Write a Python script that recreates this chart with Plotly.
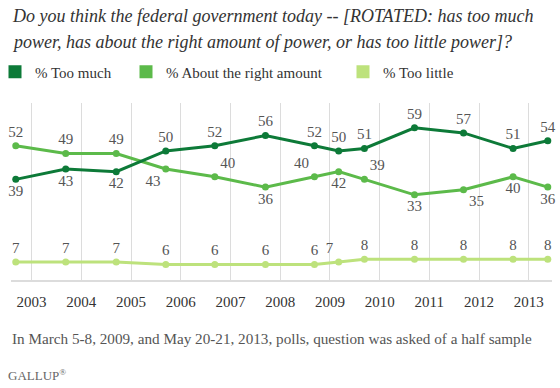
import plotly.graph_objects as go

# ---- data ----
poll_dates = ["2002-09-07", "2003-09-09", "2004-09-14", "2005-09-13", "2006-09-08",
              "2007-09-15", "2008-09-09", "2009-03-06", "2009-09-11", "2010-09-14",
              "2011-09-09", "2012-09-07", "2013-05-20"]
too_much = [39, 43, 42, 50, 52, 56, 52, 50, 51, 59, 57, 51, 54]
about_right = [52, 49, 49, 43, 40, 36, 40, 42, 39, 33, 35, 40, 36]
too_little = [7, 7, 7, 6, 6, 6, 6, 7, 8, 8, 8, 8, 8]
year_labels = ["2003", "2004", "2005", "2006", "2007", "2008", "2009", "2010", "2011", "2012", "2013"]
year_ticks = [f"{y}-01-01" for y in year_labels]
series_names = ["% Too much", "% About the right amount", "% Too little"]

# ---- styles ----
C_MUCH = "#0d7a38"
C_RIGHT = "#5cba4a"
C_LITTLE = "#bde27c"
SERIF = "Liberation Serif, Times New Roman, serif"

pos_much = ["bottom center"] * 3 + ["top center"] * 10
pos_right = ["top center"] * 3 + ["bottom left", "top right", "bottom center", "top left",
                                  "bottom center", "top right", "bottom center", "bottom right",
                                  "bottom center", "bottom center"]
pos_little = ["top center"] * 7 + ["top left"] + ["top center"] * 5

W, H = 560, 388
L, R, T, B = 11, 8, 103, 108
PW, PH = W - L - R, H - T - B


def px(x):
    return (x - L) / PW


def py(y):
    return (H - B - y) / PH


fig = go.Figure()
for name, vals, col, pos in [(series_names[2], too_little, C_LITTLE, pos_little),
                             (series_names[1], about_right, C_RIGHT, pos_right),
                             (series_names[0], too_much, C_MUCH, pos_much)]:
    fig.add_trace(go.Scatter(
        x=poll_dates, y=vals, mode="lines+markers+text",
        line=dict(color=col, width=3), marker=dict(color=col, size=7),
        text=[str(v) for v in vals], textposition=pos,
        textfont=dict(family=SERIF, size=15, color="#555555"),
        showlegend=False, cliponaxis=False, hoverinfo="skip"))

legend_ids = ["legend", "legend2", "legend3"]
legend_left = [-5, 126, 343]
for name, col, lid in zip(series_names, [C_MUCH, C_RIGHT, C_LITTLE], legend_ids):
    fig.add_trace(go.Scatter(x=[None], y=[None], mode="markers", name=name, legend=lid,
                             marker=dict(symbol="square", size=13, color=col)))

legend_style = dict(orientation="h", xanchor="left", y=py(72), yanchor="middle",
                    font=dict(family=SERIF, size=15, color="#333333"),
                    itemwidth=30, bgcolor="rgba(0,0,0,0)", borderwidth=0)

fig.update_layout(
    template="none",
    width=W, height=H, margin=dict(l=L, r=R, t=T, b=B, autoexpand=False),
    paper_bgcolor="white", plot_bgcolor="white",
    font=dict(family=SERIF, color="#333333"),
    xaxis=dict(type="date", range=["2002-08-03", "2013-06-20"],
               tickvals=year_ticks, ticktext=year_labels,
               showgrid=True, gridcolor="#dcdcdc", gridwidth=1,
               showline=True, linecolor="#dcdcdc", linewidth=2,
               ticks="outside", ticklen=7, tickcolor="rgba(0,0,0,0)",
               tickfont=dict(family=SERIF, size=15, color="#333333"),
               zeroline=False, fixedrange=True, automargin=False),
    yaxis=dict(range=[0, 68.6], showgrid=False, showticklabels=False,
               zeroline=False, showline=False, fixedrange=True, automargin=False),
    annotations=[
        dict(text="<i>Do you think the federal government today -- [ROTATED: has too much</i>",
             xref="paper", yref="paper", x=px(10), y=py(16), xanchor="left", yanchor="middle",
             showarrow=False, font=dict(family=SERIF, size=18, color="#333333")),
        dict(text="<i>power, has about the right amount of power, or has too little power]?</i>",
             xref="paper", yref="paper", x=px(10), y=py(42), xanchor="left", yanchor="middle",
             showarrow=False, font=dict(family=SERIF, size=18, color="#333333")),
        dict(text="In March 5-8, 2009, and May 20-21, 2013, polls, question was asked of a half sample",
             xref="paper", yref="paper", x=px(10), y=py(338), xanchor="left", yanchor="middle",
             showarrow=False, font=dict(family=SERIF, size=15.2, color="#555555")),
        dict(text="GALLUP<sup>®</sup>",
             xref="paper", yref="paper", x=px(6), y=py(375), xanchor="left", yanchor="middle",
             showarrow=False, font=dict(family=SERIF, size=13, color="#666666")),
    ],
)
for lid, left in zip(legend_ids, legend_left):
    fig.update_layout({lid: dict(legend_style, x=px(left))})

fig.write_html("out.html", config={"displayModeBar": False},
               post_script="document.body.style.margin='0';")
